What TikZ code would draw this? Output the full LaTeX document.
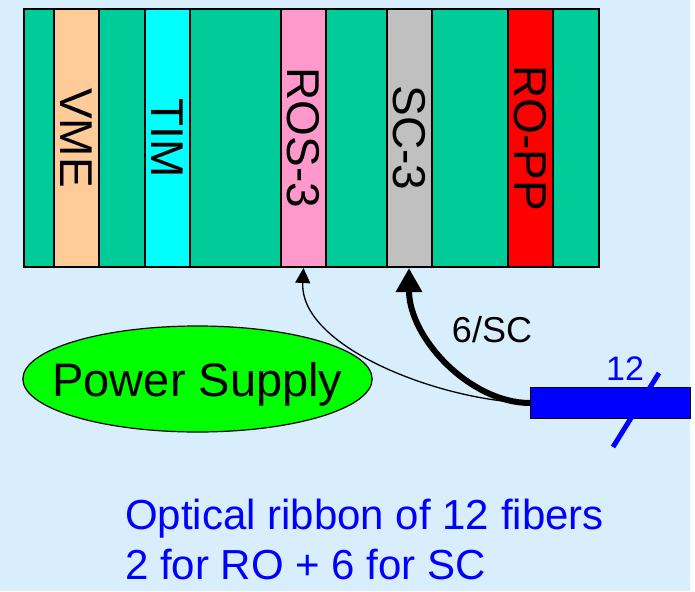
\documentclass[tikz,border=0pt]{standalone}
\usepackage{fontspec}
\setmainfont{Liberation Sans}
\usepackage{graphicx}
\usepackage{tikz}
\usetikzlibrary{shapes.geometric, arrows.meta}

\definecolor{paneblue}{RGB}{217,238,252}
\definecolor{crategreen}{RGB}{0,204,153}
\definecolor{vmepeach}{RGB}{255,204,153}
\definecolor{timcyan}{RGB}{0,255,255}
\definecolor{rospink}{RGB}{255,153,204}
\definecolor{scgray}{RGB}{192,192,192}
\definecolor{roppred}{RGB}{255,0,0}
\definecolor{psugreen}{RGB}{0,255,0}
\definecolor{fiberblue}{RGB}{0,0,255}

\begin{document}
\begin{tikzpicture}[
  x=1pt, y=-1pt,
  crate/.style={rectangle, draw, line width=2pt, fill=crategreen, minimum width=575pt, minimum height=258pt, inner sep=0pt, anchor=north west},
  card/.style={rectangle, draw, line width=2pt, fill=#1, minimum width=45pt, minimum height=258pt, inner sep=0pt, anchor=north, font=\fontsize{46}{50}\selectfont},
  psu/.style={ellipse, draw, line width=1.2pt, fill=psugreen, minimum height=106pt, inner xsep=-21.5pt, inner ysep=0pt, text depth=0pt, font=\fontsize{47}{52}\selectfont},
  ribbon/.style={rectangle, draw, line width=1pt, fill=fiberblue, minimum width=160pt, minimum height=31pt, inner sep=0pt, anchor=north west},
  lbl/.style={inner sep=0pt, text depth=0pt, font=\fontsize{36}{40}\selectfont},
  bluelbl/.style={inner sep=0pt, text=fiberblue, align=left, font=\fontsize{42}{50}\selectfont},
  fiber/.style={-{Triangle[length=15pt, width=15pt]}, line width=1.3pt},
  bundle/.style={-{Triangle[length=24pt, width=25pt]}, line width=6pt},
  cut/.style={draw=fiberblue, line width=5pt}
]
  \fill[paneblue] (0,0) rectangle (690,591);
  \useasboundingbox (0,0) rectangle (695,591);

  \node[crate] (crate) at (23,8) {};
  \node[card=vmepeach] (vme) at (76.5,8) {\rotatebox{-90}{VME}};
  \node[card=timcyan] (tim) at (167.5,8) {\rotatebox{-90}{TIM}};
  \node[card=rospink] (ros) at (303.5,8) {\rotatebox{-90}{ROS-3}};
  \node[card=scgray] (sc) at (409,8) {\rotatebox{-90}{SC-3}};
  \node[card=roppred] (ropp) at (530,8) {\rotatebox{-90}{RO-PP}};

  \node[psu] (psu) at (197.5,379) {Power Supply};
  \node[ribbon] (ribbon) at (530,387) {};

  \draw[fiber] (ribbon.west) .. controls +(-90,-2) and +(-4,79) .. (ros.south);
  \draw[bundle] (ribbon.west) .. controls +(-60,0) and +(0,70) .. (sc.south);
  \node[lbl] (nsc) at (492,329) {6/SC};

  \coordinate (cutlo) at (613,447);
  \coordinate (cuthi) at (659,373);
  \draw[cut] (cutlo) -- (cuthi);
  \node[lbl, text=fiberblue, font=\fontsize{34}{38}\selectfont] (nfib) at (625,369) {12};

  \node[bluelbl, anchor=north west] (note) at (125,499) {Optical ribbon of 12 fibers\\2 for RO + 6 for SC};
\end{tikzpicture}
\end{document}
